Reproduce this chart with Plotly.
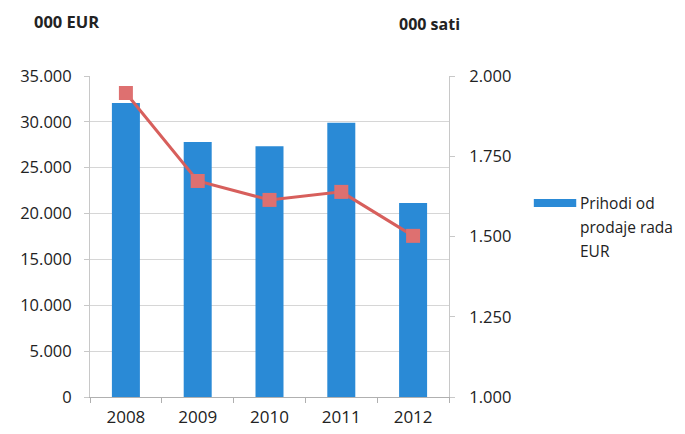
import plotly.graph_objects as go

years = ["2008", "2009", "2010", "2011", "2012"]
revenue_eur = [32050, 27800, 27350, 29900, 21150]
hours = [1947, 1673, 1614, 1639, 1502]
legend_lines = ["Prihodi od", "prodaje rada", "EUR"]

W, H = 685, 434
OFF = 8  # page body margin offset
L, R, T, B = 85 - OFF, 685 - 449 + OFF, 76 - OFF, 434 - 397 + OFF
pw, ph = W - L - R, H - T - B

def px_x(x):
    return (x - OFF - L) / pw

def px_y(y):
    return (H - B - (y - OFF)) / ph

font = "Open Sans, Liberation Sans, sans-serif"
blue = "#2a8ad6"

fig = go.Figure()
fig.add_trace(go.Bar(
    x=years, y=revenue_eur, name=" ".join(legend_lines),
    marker=dict(color=blue, line=dict(width=0)),
    width=0.39, showlegend=False,
))
fig.add_trace(go.Scatter(
    x=years, y=hours, yaxis="y2", mode="lines+markers",
    line=dict(color="#d75f5c", width=3),
    marker=dict(symbol="square", size=14, color="#de7070"),
    showlegend=False,
))

annotations = [
    dict(text="<b>000 EUR</b>", xref="paper", yref="paper",
         x=px_x(26), y=px_y(22), xanchor="left", yanchor="middle",
         showarrow=False, font=dict(size=16.5, color="#222222")),
    dict(text="<b>000 sati</b>", xref="paper", yref="paper",
         x=px_x(396), y=px_y(24), xanchor="left", yanchor="middle",
         showarrow=False, font=dict(size=16, color="#222222")),
]
for i, line in enumerate(legend_lines):
    annotations.append(dict(
        text=line, xref="paper", yref="paper",
        x=px_x(580), y=px_y(203 + 24 * i), xanchor="left", yanchor="middle",
        align="left", showarrow=False,
        font=dict(size=15.5, color="#222222")))

fig.update_layout(
    width=W, height=H,
    margin=dict(l=L, r=R, t=T, b=B),
    paper_bgcolor="white", plot_bgcolor="white",
    separators=",.",
    font=dict(family=font, size=16, color="#222222"),
    xaxis=dict(
        showgrid=False, showline=True, linecolor="#b0b0b0", linewidth=1,
        ticks="outside", ticklen=5, tickcolor="#b0b0b0",
        tickson="boundaries", tickfont=dict(size=17), ticklabelstandoff=5,
    ),
    yaxis=dict(
        range=[0, 35000], dtick=5000, tickformat=",d",
        showgrid=True, gridcolor="#d6d6d6", gridwidth=1,
        zeroline=False, showline=True, linecolor="#c8c8c8",
        ticks="outside", ticklen=5, tickcolor="#c8c8c8",
        ticklabelstandoff=9, tickfont=dict(size=16.5),
    ),
    yaxis2=dict(
        range=[1000, 2000], dtick=250, tickformat=",d",
        overlaying="y", side="right", showgrid=False, zeroline=False,
        showline=True, linecolor="#c8c8c8",
        ticks="outside", ticklen=5, tickcolor="#c8c8c8",
        ticklabelstandoff=11, tickfont=dict(size=16.5),
    ),
    shapes=[
        dict(type="rect", xref="paper", yref="paper",
             x0=px_x(535), x1=px_x(578), y0=px_y(207), y1=px_y(199),
             fillcolor=blue, line=dict(width=0)),
    ],
    annotations=annotations,
)

fig.write_html("out.html")
